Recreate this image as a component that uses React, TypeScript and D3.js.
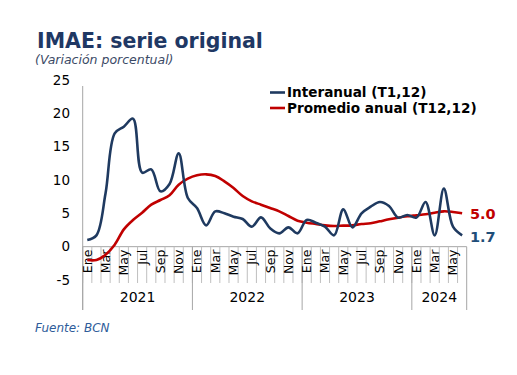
import React from 'react';
import * as d3 from 'd3';

const monthNames = ['Ene', 'Feb', 'Mar', 'Abr', 'May', 'Jun', 'Jul', 'Ago', 'Sep', 'Oct', 'Nov', 'Dic'];
const years = [2021, 2022, 2023, 2024];
const monthsPerYear = [12, 12, 12, 6];
const yTicks = [-5, 0, 5, 10, 15, 20, 25];

// Interanual (T1,12)
const interanual = [
  1.0, 1.7, 8.0, 17.0, 18.0, 19.2, 11.1, 11.6, 8.3, 9.4, 14.0, 7.3,
  5.8, 3.2, 5.3, 5.0, 4.5, 4.15, 3.0, 4.4, 2.75, 2.0, 2.9, 2.0,
  4.0, 3.6, 3.0, 1.7, 5.6, 2.9, 5.0, 6.0, 6.7, 6.1, 4.35, 4.75,
  4.35, 6.7, 1.7, 8.7, 3.0, 1.7,
];

// Promedio anual (T12,12)
const promedio = [
  -2.0, -2.0, -1.2, 0.3, 2.6, 4.0, 5.1, 6.3, 7.0, 7.7, 9.3, 10.2,
  10.7, 10.85, 10.6, 9.8, 8.8, 7.6, 6.8, 6.3, 5.8, 5.3, 4.6, 3.9,
  3.6, 3.4, 3.2, 3.1, 3.15, 3.2, 3.4, 3.5, 3.8, 4.1, 4.35, 4.55,
  4.7, 4.85, 5.1, 5.3, 5.2, 5.0,
];

const NAVY = '#1f3a60';
const RED = '#c00000';
const FONT = 'Verdana, "DejaVu Sans", sans-serif';

const App: React.FC = () => {
  const width = 517;
  const height = 375;
  const left = 82.7;
  const right = 466.7;
  const top = 80;
  const bottom = 280;

  const labels: string[] = [];
  years.forEach((y, yi) => {
    for (let m = 0; m < monthsPerYear[yi]; m++) labels.push(`${monthNames[m]}-${y}`);
  });

  const x = d3.scaleBand<string>().domain(labels).range([left, right]).padding(0);
  const y = d3.scaleLinear().domain([-5, 25]).range([bottom, top]);
  const cx = (i: number) => (x(labels[i]) as number) + x.bandwidth() / 2;

  const line = d3.line<number>()
    .x((_, i) => cx(i))
    .y(d => y(d))
    .curve(d3.curveCatmullRom.alpha(0.5));

  const y0 = y(0);

  // year group boundaries
  const yearStarts: number[] = [];
  let acc = 0;
  monthsPerYear.forEach(n => { yearStarts.push(acc); acc += n; });

  return (
    <svg width={width} height={height} style={{ position: 'absolute', left: 0, top: 0 }} fontFamily={FONT}>
      <rect width={width} height={height} fill="#fff" />
      <text x={37} y={48} fontSize={20.5} fontWeight="bold" fill="#1f3864">IMAE: serie original</text>
      <text x={35} y={64} fontSize={12.5} fontStyle="italic" fill="#3b4a66">(Variación porcentual)</text>

      {/* y axis */}
      <line x1={left} x2={left} y1={top + 6} y2={310} stroke="#a6a6a6" strokeWidth={1} />
      {yTicks.map(t => (
        <text key={t} x={70} y={y(t)} dy="0.35em" textAnchor="end" fontSize={13.5} fill="#000">{t}</text>
      ))}

      {/* x axis at zero */}
      <line x1={left} x2={right} y1={y0} y2={y0} stroke="#a6a6a6" strokeWidth={1} />
      {labels.map((l) => (
        <line key={'t' + l} x1={x(l) as number} x2={x(l) as number} y1={y0} y2={283} stroke="#bfbfbf" strokeWidth={1} />
      ))}
      <line x1={right} x2={right} y1={y0} y2={310} stroke="#a6a6a6" strokeWidth={1} />
      {yearStarts.map(s => (
        <line key={'ys' + s} x1={x(labels[s]) as number} x2={x(labels[s]) as number} y1={y0} y2={310} stroke="#a6a6a6" strokeWidth={1} />
      ))}
      {labels.map((l, i) => (i % 2 === 0 ? (
        <text key={'m' + l} transform={`translate(${cx(i)},${y0 + 3}) rotate(-90)`} textAnchor="end" dy="0.35em" fontSize={12.5} fill="#000">
          {monthNames[i % 12]}
        </text>
      ) : null))}
      {years.map((yr, yi) => {
        const s = yearStarts[yi];
        const e = s + monthsPerYear[yi] - 1;
        const mid = ((x(labels[s]) as number) + (x(labels[e]) as number) + x.bandwidth()) / 2;
        return <text key={yr} x={mid} y={302} textAnchor="middle" fontSize={14} fill="#000">{yr}</text>;
      })}

      {/* series */}
      <path d={line(promedio) || ''} fill="none" stroke={RED} strokeWidth={2.6} />
      <path d={line(interanual) || ''} fill="none" stroke={NAVY} strokeWidth={2.6} />

      {/* end labels */}
      <text x={470} y={219} fontSize={14.5} fontWeight="bold" fill={RED}>{promedio[promedio.length - 1].toFixed(1)}</text>
      <text x={470} y={242} fontSize={14.5} fontWeight="bold" fill="#1f4e79">{interanual[interanual.length - 1].toFixed(1)}</text>

      {/* legend */}
      <line x1={270} x2={285} y1={92.5} y2={92.5} stroke={NAVY} strokeWidth={2.6} />
      <text x={287} y={97} fontSize={13.6} fontWeight="bold" fill="#000">Interanual (T1,12)</text>
      <line x1={270} x2={285} y1={108} y2={108} stroke={RED} strokeWidth={2.6} />
      <text x={287} y={112.5} fontSize={13.6} fontWeight="bold" fill="#000">Promedio anual (T12,12)</text>

      <text x={35} y={332} fontSize={12} fontStyle="italic" fill="#2e5c9a">Fuente: BCN</text>
    </svg>
  );
};

export default App;
